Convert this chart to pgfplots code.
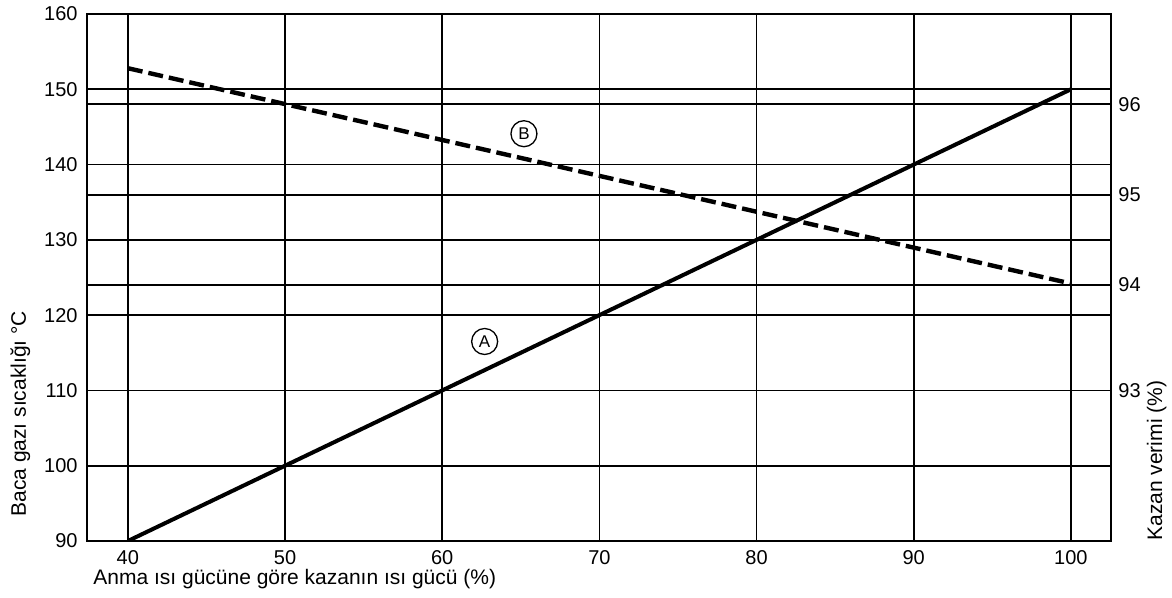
\documentclass[border=0pt]{standalone}
\usepackage{pgfplots}
\pgfplotsset{compat=1.18}
\usepackage{fontspec}
\setmainfont{Liberation Sans}
\begin{document}
\begin{tikzpicture}[font=\fontsize{10}{12}\selectfont]
\pgfplotsset{every axis/.append style={
  scale only axis, width=512pt, height=263.5pt,
  xmin=37.4, xmax=102.55, ymin=90, ymax=160,
  major tick length=0pt,
  /pgf/number format/assume math mode=true,
  tick label style={font=\fontsize{10}{12}\selectfont},
  label style={font=\fontsize{10.5}{12}\selectfont},
  grid style={black, line width=0.85pt},
  axis line style={black, line width=0.85pt},
}}
\begin{axis}[
  xtick={40,50,...,100}, ytick={90,100,...,160},
  grid=major,
  xtick pos=bottom, ytick pos=left,
  xticklabel style={anchor=base, inner sep=0pt, yshift=-12pt},
  yticklabel style={anchor=east, inner sep=0pt, xshift=-4.5pt},
  xlabel={Anma ısı gücüne göre kazanın ısı gücü (\%)},
  xlabel style={at={([xshift=3pt,yshift=-22pt]axis description cs:0,0)}, anchor=base west, inner sep=0pt},
  ylabel={Baca gazı sıcaklığı °C},
  ylabel style={at={([xshift=-30.5pt,yshift=12pt]axis description cs:0,0)}, anchor=base west, inner sep=0pt},
]
\addplot[black, line width=2pt] coordinates {(40,90) (100,150)};
\addplot[black, line width=2.2pt, dash pattern=on 7.5pt off 3pt] coordinates {(40,152.8) (100,124.2)};
\node[circle, draw, line width=0.65pt, inner sep=0pt, minimum size=13pt, fill=white, font=\fontsize{8.5}{10}\selectfont] at (axis cs:62.7,116.5) {A};
\node[circle, draw, line width=0.65pt, inner sep=0pt, minimum size=13pt, fill=white, font=\fontsize{8.5}{10}\selectfont] at (axis cs:65.2,144.1) {B};
\coordinate (SW) at (rel axis cs:0,0);
\coordinate (NE) at (rel axis cs:1,1);
\end{axis}
\begin{axis}[
  axis x line=none, axis y line*=right,
  ytick={110,124,136,148}, yticklabels={93,94,95,96},
  yticklabel style={anchor=west, inner sep=0pt, xshift=3.5pt},
  ymajorgrids,
  ylabel={Kazan verimi (\%)},
  ylabel style={at={([xshift=25.5pt]axis description cs:1,0)}, anchor=base west, inner sep=0pt},
]
\end{axis}
\path ([xshift=-43.5pt,yshift=-28.5pt]SW) rectangle ([xshift=30.5pt,yshift=7pt]NE);
\end{tikzpicture}
\end{document}
